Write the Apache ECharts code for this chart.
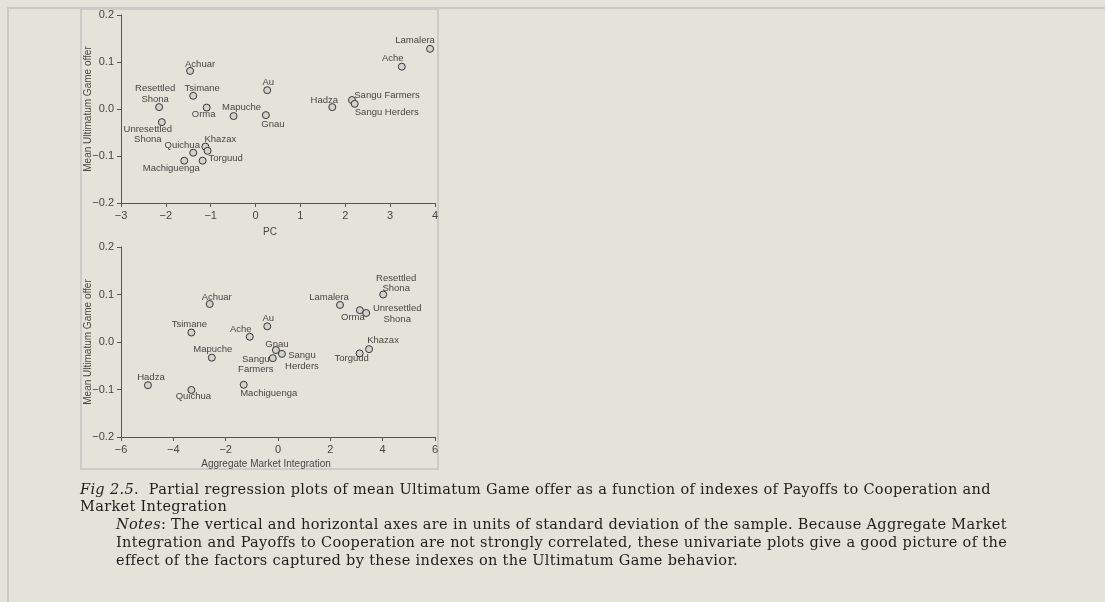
<!DOCTYPE html>
<html>
<head>
<meta charset="utf-8">
<script src="https://cdn.jsdelivr.net/npm/echarts@6/dist/echarts.min.js"></script>
<style>
  html, body { margin: 0; padding: 0; background: #e5e3d9; width: 1105px; height: 602px; overflow: hidden; }
  #page { position: absolute; left: 7px; top: 7px; width: 1098px; height: 595px;
          border-top: 2px solid #c9c9c6; border-left: 2px solid #c9c9c6; box-sizing: border-box; }
  #frame { position: absolute; left: 80px; top: 8px; width: 359px; height: 462px;
           border: 2px solid #cbcbc8; box-sizing: border-box; }
  #chart { position: absolute; left: 0; top: 0; width: 1105px; height: 602px; }
  #caption { position: absolute; left: 80px; top: 480.5px; font-family: "DejaVu Serif", serif;
             font-size: 13px; line-height: 17.9px; color: #1e1e1e; white-space: nowrap; }
  #caption .notes { padding-left: 36px; }
</style>
</head>
<body>
<div id="page"></div>
<div id="frame"></div>
<div id="chart"></div>
<div id="caption">
  <div id="line1"><i>Fig 2.5</i>.&nbsp;&nbsp;Partial regression plots of mean Ultimatum Game offer as a function of indexes of Payoffs to Cooperation and</div>
  <div>Market Integration</div>
  <div class="notes"><i>Notes</i>: The vertical and horizontal axes are in units of standard deviation of the sample. Because Aggregate Market<br>Integration and Payoffs to Cooperation are not strongly correlated, these univariate plots give a good picture of the<br>effect of the factors captured by these indexes on the Ultimatum Game behavior.</div>
</div>
<script>
// ---- Data: top panel (Payoffs to Cooperation, "PC") ----
const pcNames = ["Achuar", "Tsimane", "Resettled\nShona", "Orma", "Mapuche", "Unresettled\nShona",
  "Khazax", "", "Quichua", "Torguud", "Machiguenga", "Au", "Gnau", "Hadza",
  "Sangu Farmers", "Sangu Herders", "Ache", "Lamalera"];
const pcX = [-1.46, -1.39, -2.15, -1.09, -0.49, -2.09, -1.12, -1.07, -1.39, -1.18, -1.59,
  0.26, 0.23, 1.71, 2.15, 2.21, 3.26, 3.89];
const pcY = [0.081, 0.028, 0.004, 0.003, -0.015, -0.028, -0.080, -0.089, -0.093, -0.110, -0.110,
  0.040, -0.013, 0.004, 0.019, 0.011, 0.090, 0.128];

// ---- Data: bottom panel (Aggregate Market Integration) ----
const amiNames = ["Achuar", "Tsimane", "Ache", "Mapuche", "Hadza", "Quichua", "Machiguenga",
  "Sangu\nFarmers", "Sangu\nHerders", "Gnau", "Au", "Lamalera", "Resettled\nShona", "Orma",
  "Unresettled\nShona", "Khazax", "Torguud"];
const amiX = [-2.61, -3.31, -1.08, -2.53, -4.97, -3.31, -1.31, -0.20, 0.15, -0.08, -0.41,
  2.37, 4.02, 3.13, 3.37, 3.48, 3.12];
const amiY = [0.080, 0.020, 0.011, -0.033, -0.091, -0.101, -0.090, -0.034, -0.025, -0.017, 0.033,
  0.078, 0.100, 0.067, 0.061, -0.015, -0.024];

// ---- Tick labels ----
const pcXTicks = [-3, -2, -1, 0, 1, 2, 3, 4];
const amiXTicks = [-6, -4, -2, 0, 2, 4, 6];
const yTicks = [-0.2, -0.1, 0.0, 0.1, 0.2];

// ---- Layout: label offsets (label centre relative to point, px) ----
const pcLabelOffset = {
  "Achuar": [10, -7], "Tsimane": [9, -7], "Resettled\nShona": [-4, -13], "Orma": [-3, 7],
  "Mapuche": [8, -9], "Unresettled\nShona": [-14, 12], "Khazax": [15, -7], "Quichua": [-11, -7],
  "Torguud": [23, -2], "Machiguenga": [-13, 8], "Au": [1, -8], "Gnau": [7, 9], "Hadza": [-8, -7],
  "Sangu Farmers": [35, -5], "Sangu Herders": [32, 9], "Ache": [-9, -8], "Lamalera": [-15, -8]
};
const amiLabelOffset = {
  "Achuar": [7, -7], "Tsimane": [-2, -8], "Ache": [-9, -7], "Mapuche": [1, -8], "Hadza": [3, -8],
  "Quichua": [2, 6], "Machiguenga": [25, 9], "Sangu\nFarmers": [-17, 6], "Sangu\nHerders": [20, 7],
  "Gnau": [1, -6], "Au": [1, -8], "Lamalera": [-11, -8], "Resettled\nShona": [13, -11],
  "Orma": [-7, 7], "Unresettled\nShona": [31, 1], "Khazax": [14, -9], "Torguud": [-8, 5]
};

// ---- Caption font: prefer DejaVu Serif; otherwise a slightly larger serif fitted to the reference width ----
(function fitCaption() {
  const cv = document.createElement('canvas').getContext('2d');
  const probe = 'Partial regression plots of mean Ultimatum Game offer';
  function w(f) { cv.font = '13px ' + f; return cv.measureText(probe).width; }
  const mono = w('monospace');
  const cands = ['"DejaVu Serif"', '"Noto Serif"', '"Liberation Serif"'];
  let chosen = 'serif';
  for (const c of cands) { if (Math.abs(w(c + ', monospace') - mono) > 0.5) { chosen = c; break; } }
  const cap = document.getElementById('caption');
  cap.style.fontFamily = chosen + ', serif';
  const l1 = document.getElementById('line1');
  l1.style.display = 'inline-block';
  let cur = l1.getBoundingClientRect().width;
  const target = 910;
  if (cur < target * 0.95) {
    cap.style.fontSize = '14.5px';
    cur = l1.getBoundingClientRect().width;
  }
  l1.style.display = '';
  const n = l1.textContent.length;
  const ls = (target - cur) / n;
  if (Math.abs(ls) > 0.05) cap.style.letterSpacing = ls.toFixed(3) + 'px';
})();

const FONT = '"Liberation Sans", Arial, Helvetica, sans-serif';
const textCol = '#454545';
const axisCol = '#555555';
const fmt = (v, d) => (Math.abs(v) < 1e-9 ? (0).toFixed(d) : v.toFixed(d)).replace('-', '\u2212');

function buildData(names, xs, ys, offsets) {
  return names.map((n, i) => ({
    value: [xs[i], ys[i]],
    name: n,
    label: n ? { show: true, position: 'inside', offset: offsets[n] || [0, 0] } : { show: false }
  }));
}

function xAxisCfg(gridIndex, ticks, name, gap, padRight) {
  return {
    gridIndex, type: 'value', min: ticks[0], max: ticks[ticks.length - 1],
    interval: ticks[1] - ticks[0],
    name, nameLocation: 'middle', nameGap: gap, nameMoveOverlap: false,
    nameTextStyle: { fontFamily: FONT, fontSize: 10, color: textCol, padding: [0, padRight, 0, 0] },
    axisLine: { show: true, onZero: false, lineStyle: { color: axisCol, width: 1 } },
    axisTick: { show: true, length: 4, lineStyle: { color: axisCol } },
    axisLabel: { fontFamily: FONT, fontSize: 11, color: textCol, margin: 7,
      formatter: v => fmt(v, 0), showMinLabel: true, showMaxLabel: true },
    splitLine: { show: false }
  };
}
function yAxisCfg(gridIndex) {
  return {
    gridIndex, type: 'value', min: yTicks[0], max: yTicks[yTicks.length - 1],
    interval: 0.1,
    name: 'Mean Ultimatum Game offer', nameLocation: 'middle', nameGap: 28, nameMoveOverlap: false,
    nameTextStyle: { fontFamily: FONT, fontSize: 10, color: textCol },
    axisLine: { show: true, onZero: false, lineStyle: { color: axisCol, width: 1 } },
    axisTick: { show: true, length: 4, lineStyle: { color: axisCol } },
    axisLabel: { fontFamily: FONT, fontSize: 11, color: textCol, margin: 7,
      formatter: v => fmt(v, 1), showMinLabel: true, showMaxLabel: true },
    splitLine: { show: false }
  };
}

const seriesStyle = {
  type: 'scatter', symbol: 'circle', symbolSize: 7,
  itemStyle: { color: '#d2d2cf', borderColor: '#333333', borderWidth: 1, opacity: 1 },
  label: { formatter: '{b}', fontFamily: FONT, fontSize: 9.5, color: textCol, lineHeight: 10.5,
    align: 'center', verticalAlign: 'middle' },
  emphasis: { disabled: true },
  animation: false
};

const chart = echarts.init(document.getElementById('chart'), null, { renderer: 'canvas' });
chart.setOption({
  backgroundColor: 'transparent',
  animation: false,
  grid: [
    { left: 121, top: 15, width: 314, height: 188, containLabel: false },
    { left: 121, top: 247, width: 314, height: 190, containLabel: false }
  ],
  xAxis: [
    xAxisCfg(0, pcXTicks, 'PC', 24, 16),
    xAxisCfg(1, amiXTicks, 'Aggregate Market Integration', 22, 24)
  ],
  yAxis: [yAxisCfg(0), yAxisCfg(1)],
  series: [
    Object.assign({}, seriesStyle, { xAxisIndex: 0, yAxisIndex: 0,
      data: buildData(pcNames, pcX, pcY, pcLabelOffset) }),
    Object.assign({}, seriesStyle, { xAxisIndex: 1, yAxisIndex: 1,
      data: buildData(amiNames, amiX, amiY, amiLabelOffset) })
  ]
});
</script>
</body>
</html>
